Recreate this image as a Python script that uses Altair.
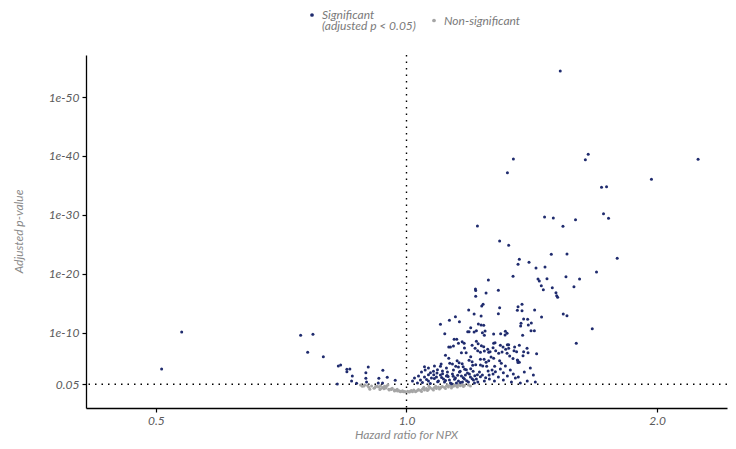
import altair as alt
import pandas as pd

# ---- data: significant proteins (hazard ratio, -log10 adjusted p) ----
sig_hr = [
    1.530, 1.344, 1.322, 1.653, 1.640, 2.240, 1.969, 1.715, 1.739, 1.465,
    1.501, 1.5415, 1.596, 1.7245, 1.7485, 1.2167, 1.2939, 1.3265, 1.3663, 1.3614,
    1.4034, 1.4308, 1.4668, 1.4926, 1.5587, 1.791, 1.6915, 1.3427, 1.2541, 1.4387,
    1.4439, 1.4749, 1.5544, 1.6139, 1.4519, 1.4600, 1.4967, 1.5891, 1.2100, 1.211,
    1.2893, 1.2462, 1.2110, 1.512, 1.515, 1.519, 1.2360, 1.2313, 1.2939, 1.3765,
    1.3614, 1.3588, 1.3765, 1.4253, 1.1877, 1.2893, 1.2056, 1.2292, 1.5428, 1.5587,
    1.4530, 1.1449, 1.1261, 1.1576, 1.3826, 1.3980, 1.3727, 1.3712, 1.4124, 1.4007,
    1.0985, 1.2200, 1.2292, 1.2381, 1.1943, 1.1845, 1.189, 1.2056, 1.2133, 1.2336,
    1.2428, 1.4112, 1.4243, 1.6716, 1.3145, 1.3207, 1.3134, 1.2726, 1.2975, 1.2403,
    1.3788, 1.1116, 1.1408, 1.1491, 1.5993, 1.1545, 1.1240, 1.1293, 1.1386, 1.1665,
    1.1729, 1.1739, 1.1794, 1.1641, 1.2133, 1.1990, 1.2090, 1.2191, 1.2302, 1.2177,
    1.2269, 1.2381, 1.2403, 1.2518, 1.2553, 1.2601, 1.2705, 1.2726, 1.2775, 1.2797,
    1.2904, 1.2964, 1.3061, 1.3156, 1.3025, 1.3218, 1.3265, 1.3265, 1.3207, 1.3485,
    1.3463, 1.3560, 1.3663, 1.3826, 1.3803, 1.3957, 1.3996, 1.4332, 1.3588, 1.3663,
    1.3302, 1.3072, 1.2636, 1.2726, 1.2553, 1.2462, 1.2269, 1.2395, 1.2939, 1.2999,
    1.1943, 1.1890, 1.1990, 1.2010, 1.2110, 1.2269, 1.2347, 1.1943, 1.2023, 1.2483,
    1.2532, 1.2670, 1.2761, 1.2167, 1.2269, 1.2336, 1.2448, 1.2567, 1.2705, 1.2787,
    1.1240, 1.1271, 1.1139, 1.1503, 1.1566, 1.1460, 1.1665, 1.1697, 1.1748, 1.1005,
    1.0985, 1.0894, 1.0510, 1.0530, 1.0774, 1.0685, 1.0626, 1.0783,
    1.0864, 1.0985, 1.1077, 1.1168, 1.1261, 1.1355, 1.1449, 1.1545, 1.1641, 1.1739,
    1.1837, 1.1934, 1.2034, 1.0924, 1.1108, 1.1293, 1.1481, 1.1673, 1.1868, 1.2067,
    1.1199, 1.1386, 1.1576, 1.1770, 1.2133, 1.2235, 1.2403, 1.2577, 1.2754, 1.2893,
    1.3072, 1.3218, 1.3367, 1.3513, 1.0394, 1.0510, 1.0626, 1.0715, 1.0308, 1.2964,
    1.3145, 1.3327, 1.3437, 1.3625, 1.3853, 1.4085, 1.4203, 1.4280, 1.3965, 1.3701,
    1.1545, 1.1355, 1.1168, 1.1046, 1.0804, 1.0626, 1.0423, 1.0337, 1.0167, 1.0223,
    1.3425, 1.3600, 1.3610,
    1.0450, 1.0570, 1.0680, 1.0800, 1.0900, 1.1020, 1.1140, 1.1220, 1.1330, 1.1420,
    1.1520, 1.1610, 1.1700, 1.1810, 1.1900, 1.1990, 1.2080, 1.2180, 1.0880, 1.1050,
    1.1190, 1.1380, 1.1600, 1.1800,
    0.508, 0.537, 0.7462, 0.7720, 0.7608, 0.7945, 0.8281, 0.8334, 0.8480, 0.8550,
    0.8480, 0.8608, 0.8591, 0.8710, 0.8258, 0.8996, 0.8937, 0.8937, 0.8954, 0.9264,
    0.9367, 0.9481, 0.9693, 0.9249, 0.9359,
]
sig_nlp = [
    54.40, 39.49, 37.16, 40.28, 39.37, 39.44, 36.05, 34.69, 34.79, 29.66,
    29.49, 28.08, 29.20, 30.22, 29.44, 28.13, 25.59, 24.86, 22.49, 21.64,
    21.98, 21.01, 21.18, 23.33, 23.38, 22.66, 20.33, 19.61, 18.98, 19.15,
    18.81, 19.20, 19.54, 19.15, 18.01, 17.33, 17.67, 17.84, 17.45, 17.20,
    17.23, 16.77, 16.22, 16.83, 16.32, 16.05, 14.86, 14.57, 14.28, 14.86,
    14.45, 13.84, 13.77, 13.89, 13.89, 13.27, 13.22, 12.88, 13.22, 12.93,
    12.71, 12.76, 12.15, 11.91, 12.37, 12.32, 11.64, 11.18, 11.69, 11.35,
    11.47, 11.52, 11.35, 11.30, 10.89, 10.22, 10.22, 10.16, 10.38, 10.05,
    10.33, 10.38, 10.38, 10.72, 10.28, 9.94, 9.66, 9.83, 9.88, 9.60,
    9.60, 9.88, 8.93, 8.93, 8.25, 8.25, 7.62, 7.62, 7.79, 8.52,
    8.25, 7.45, 6.66, 6.66, 8.59, 7.91, 7.40, 8.18, 7.84, 6.99,
    6.72, 7.67, 6.94, 7.23, 6.72, 6.83, 7.50, 8.25, 8.35, 6.99,
    6.55, 7.91, 7.62, 7.23, 6.77, 8.01, 8.01, 7.40, 6.55, 7.62,
    6.99, 6.83, 7.91, 6.83, 6.15, 7.40, 6.66, 6.49, 5.42, 5.03,
    6.10, 3.27, 5.93, 5.71, 5.30, 5.03, 5.54, 5.54, 5.30, 4.86,
    5.98, 5.37, 5.13, 4.52, 4.62, 4.57, 4.40, 3.94, 3.50, 4.35,
    3.55, 3.72, 4.35, 2.93, 2.59, 2.88, 2.42, 2.88, 3.05, 3.44,
    5.71, 4.86, 6.22, 5.30, 4.96, 4.35, 4.79, 4.28, 3.84, 4.74,
    4.35, 3.77, 4.28, 3.72, 3.50, 3.27, 2.93, 2.93,
    2.54, 2.88, 2.20, 2.71, 2.03, 3.05, 2.37, 1.86, 2.71, 2.20,
    3.22, 2.54, 2.03, 1.86, 1.69, 1.52, 1.52, 1.69, 1.69, 1.52,
    3.38, 3.72, 3.38, 2.88, 2.20, 3.38, 1.86, 2.20, 1.86, 2.54,
    2.03, 2.71, 1.69, 2.37, 2.03, 2.54, 1.86, 2.37, 1.52, 3.89,
    4.40, 3.72, 3.05, 2.54, 3.38, 4.06, 2.88, 1.69, 1.86, 1.52,
    4.23, 4.74, 4.06, 3.55, 4.40, 4.06, 3.38, 2.71, 1.86, 2.37,
    5.68, 5.32, 4.98,
    1.62, 2.10, 1.45, 2.30, 1.75, 2.45, 1.95, 2.60, 1.40, 2.15,
    2.85, 1.60, 2.40, 1.90, 3.05, 2.25, 2.75, 1.70, 3.20, 3.10,
    2.80, 2.65, 3.50, 3.75,
    3.89, 10.16, 9.61, 9.77, 6.72, 5.98, 4.40, 4.57, 3.84, 3.89,
    3.44, 2.71, 1.86, 1.47, 1.35, 4.23, 3.27, 2.32, 1.69, 2.32,
    3.67, 2.49, 1.98, 1.52, 1.52,
]

# ---- data: non-significant proteins ----
ns_hr = [
    0.8807, 0.8849, 0.8888, 0.8906, 0.8979, 0.9036, 0.9079, 0.9162, 0.9180, 0.9256,
    0.9307, 0.9307, 0.9359, 0.9393, 0.9410, 0.9437, 0.9463, 0.9523, 0.9533, 0.9613,
    0.9594, 0.9674, 0.9674, 0.9746, 0.9754, 0.9817, 0.9836, 0.9882, 0.9890, 0.9917,
    0.9972, 1.0064, 1.0083, 1.0111, 1.0167, 1.0204, 1.0280, 1.0337, 1.0394, 1.0452,
    1.0490, 1.0510, 1.0568, 1.0626, 1.0635, 1.0685, 1.0744, 1.0804, 1.0864, 1.0924,
    1.0985, 1.1046, 1.1108, 1.1168, 1.1230, 1.1293, 1.1355, 1.1417, 1.1481, 1.1545,
    1.1609, 1.1673, 1.1738, 1.1868, 1.0252, 1.0424, 1.0597, 1.0774, 1.0954, 1.1139,
    1.1324, 1.1513, 1.1706, 1.1934,
    0.9140, 0.9290, 0.9450, 0.9580, 0.9700, 0.9800, 0.9950, 1.0030, 1.0140, 1.0320,
    1.0480, 1.0660, 1.0840, 1.1010, 1.1200, 1.1400, 1.1560, 0.9010, 0.9220, 0.9500,
]
ns_nlp = [
    1.18, 0.96, 1.01, 1.18, 1.10, 0.45, 1.01, 0.72, 0.93, 0.84,
    1.06, 0.55, 0.76, 0.55, 0.96, 0.67, 1.01, 0.45, 0.33, 0.62,
    0.42, 0.16, 0.33, 0.45, 0.16, 0.11, 0.02, 0.11, 0.22, 0.02,
    0.01, 0.05, 0.01, 0.16, 0.03, 0.33, 0.16, 0.42, 0.25, 0.50,
    0.79, 0.33, 0.59, 0.42, 1.01, 0.67, 0.50, 0.76, 0.59, 0.84,
    0.67, 0.93, 0.76, 1.01, 0.84, 1.10, 0.93, 1.18, 1.01, 1.18,
    1.05, 1.22, 1.10, 1.18, 0.02, 0.08, 0.25, 0.33, 0.50, 0.59,
    0.67, 0.84, 0.93, 1.01,
    0.62, 0.40, 0.70, 0.52, 0.28, 0.20, 0.08, 0.10, 0.24, 0.30,
    0.62, 0.80, 0.96, 0.82, 1.12, 1.00, 1.25, 0.80, 0.98, 1.20,
]

groups = ["Significant", "Non-significant"]
colors = ["#1f2b6e", "#a5a5a5"]
y_ticks = [1.30103, 10, 20, 30, 40, 50]
x_ticks = [0.5, 1.0, 2.0]
p_threshold_nlp = 1.30103
hr_ref = 1.0

df = pd.concat([
    pd.DataFrame({"hr": ns_hr, "nlp": ns_nlp, "group": groups[1]}),
    pd.DataFrame({"hr": sig_hr, "nlp": sig_nlp, "group": groups[0]}),
], ignore_index=True)

FONT = "Lato"
x_scale = alt.Scale(type="log", base=2, domain=[0.4121, 2.4266], nice=False)
y_scale = alt.Scale(domain=[-2.72, 57.12], nice=False, zero=False)

points = alt.Chart(df).mark_circle(size=9, opacity=1).encode(
    x=alt.X("hr:Q", scale=x_scale,
            axis=alt.Axis(values=x_ticks, format=".1f", title="Hazard ratio for NPX",
                          titleX=320, titleY=26, titleBaseline="middle")),
    y=alt.Y("nlp:Q", scale=y_scale,
            axis=alt.Axis(values=y_ticks, title="Adjusted p-value",
                          labelExpr="datum.value < 5 ? '0.05' : '1e-' + datum.value",
                          titleX=-68, titleY=176, titleBaseline="middle", titleAngle=270)),
    color=alt.Color("group:N",
                    scale=alt.Scale(domain=groups, range=colors),
                    legend=alt.Legend(
                        title=None, orient="none", direction="horizontal",
                        legendX=220, legendY=-46, padding=0, columnPadding=12,
                        symbolSize=14, symbolType="circle", symbolStrokeWidth=0,
                        labelOffset=4,
                        labelExpr="datum.label == 'Significant' ? ['Significant', '(adjusted p < 0.05)'] : datum.label",
                        labelFont=FONT, labelFontStyle="italic", labelFontSize=12,
                        labelColor="#7a7a7a")),
)

hline = alt.Chart(pd.DataFrame({"nlp": [p_threshold_nlp]})).mark_rule(
    color="black", strokeDash=[1.5, 5], strokeWidth=1.4
).encode(y=alt.Y("nlp:Q", scale=y_scale))

vline = alt.Chart(pd.DataFrame({"hr": [hr_ref]})).mark_rule(
    color="black", strokeDash=[1.5, 5], strokeWidth=1.4
).encode(x=alt.X("hr:Q", scale=x_scale))

chart = alt.layer(hline, vline, points).properties(
    width=641, height=353,
    autosize=alt.AutoSizeParams(type="none"),
    padding={"left": 78, "top": 47, "right": 1, "bottom": 33},
).configure(
    style={"guide-label": {"lineHeight": 11}}
).configure_view(stroke=None).configure_axis(
    grid=False, domainColor="black", domainWidth=1.3, tickColor="black",
    tickSize=4, tickWidth=1.2, labelFont=FONT, labelFontStyle="italic",
    labelFontSize=12, labelColor="#5a5a5a", labelPadding=3,
    titleFont=FONT, titleFontStyle="italic", titleFontWeight="normal",
    titleFontSize=12, titleColor="#8a8a8a",
)

chart.save("out.html", embed_options={"renderer": "svg", "actions": False})
